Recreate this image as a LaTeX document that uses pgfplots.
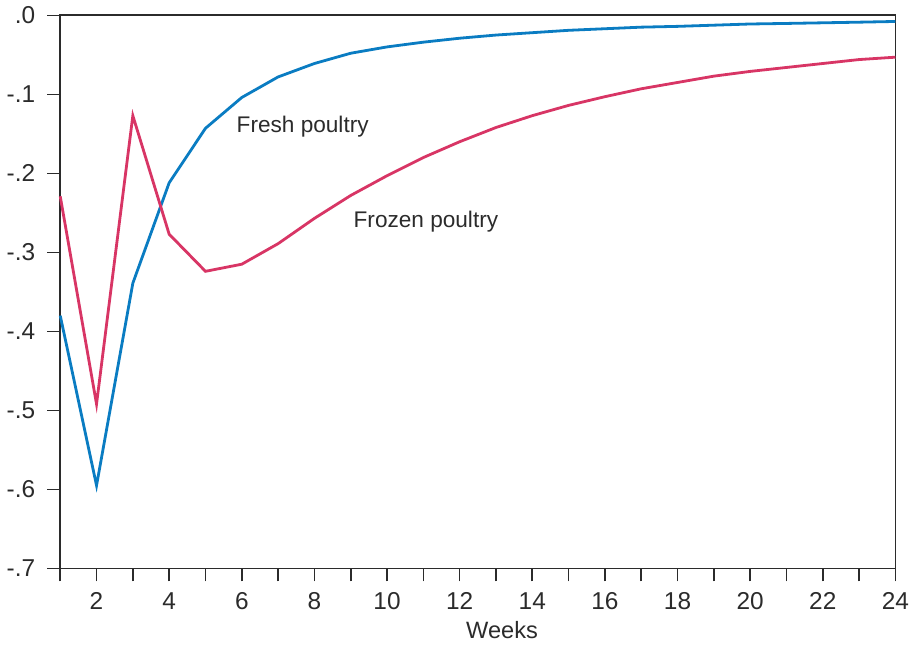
\documentclass[border=0pt]{standalone}
\usepackage{pgfplots}
\pgfplotsset{compat=1.18}
\usepackage{fontspec}
\setmainfont{Liberation Sans}
\definecolor{freshblue}{HTML}{0A7CC2}
\definecolor{frozenred}{HTML}{D83565}
\definecolor{axgray}{HTML}{2B2B2B}
\begin{document}
\begin{tikzpicture}
\begin{axis}[
  scale only axis,
  width=417.5pt, height=276.5pt,
  xmin=1, xmax=24, ymin=-0.7, ymax=0,
  axis line style={axgray, line width=0.9pt},
  every tick/.style={axgray, line width=0.8pt},
  tick align=outside,
  xtick pos=lower, ytick pos=left,
  major tick length=6.5pt, minor tick length=6.5pt,
  xtick={2,4,...,24},
  minor xtick={1,3,...,23},
  ytick={-0.7,-0.6,-0.5,-0.4,-0.3,-0.2,-0.1,0},
  yticklabels={-.7,-.6,-.5,-.4,-.3,-.2,-.1,.0},
  /pgf/number format/assume math mode=true,
  tick label style={font=\fontsize{12.2}{13}\selectfont, text=axgray},
  xticklabel style={inner xsep=0pt, yshift=-2pt},
  yticklabel style={xshift=-2.5pt},
  xlabel={Weeks},
  xlabel style={font=\fontsize{11.8}{13}\selectfont, text=axgray, at={(axis description cs:0.529,0)}, anchor=north, yshift=-23pt},
  clip=false,
]
\addplot[freshblue, line width=1.4pt] coordinates {
(1,-0.380) (2,-0.595) (3,-0.339) (4,-0.212) (5,-0.143) (6,-0.104)
(7,-0.078) (8,-0.061) (9,-0.048) (10,-0.040) (11,-0.034) (12,-0.029)
(13,-0.025) (14,-0.022) (15,-0.019) (16,-0.017) (17,-0.015) (18,-0.014)
(19,-0.0125) (20,-0.011) (21,-0.0103) (22,-0.0095) (23,-0.0087) (24,-0.0078)
};
\addplot[frozenred, line width=1.4pt] coordinates {
(1,-0.229) (2,-0.492) (3,-0.127) (4,-0.277) (5,-0.324) (6,-0.315)
(7,-0.289) (8,-0.257) (9,-0.228) (10,-0.203) (11,-0.180) (12,-0.160)
(13,-0.142) (14,-0.127) (15,-0.114) (16,-0.103) (17,-0.093) (18,-0.085)
(19,-0.077) (20,-0.071) (21,-0.066) (22,-0.061) (23,-0.056) (24,-0.053)
};
\node[anchor=west, inner sep=0pt, text=axgray, font=\fontsize{11.3}{13}\selectfont] at (axis cs:5.85,-0.1405) {Fresh poultry};
\node[anchor=west, inner sep=0pt, text=axgray, font=\fontsize{11.3}{13}\selectfont] at (axis cs:9.07,-0.261) {Frozen poultry};
\end{axis}
\end{tikzpicture}
\end{document}
